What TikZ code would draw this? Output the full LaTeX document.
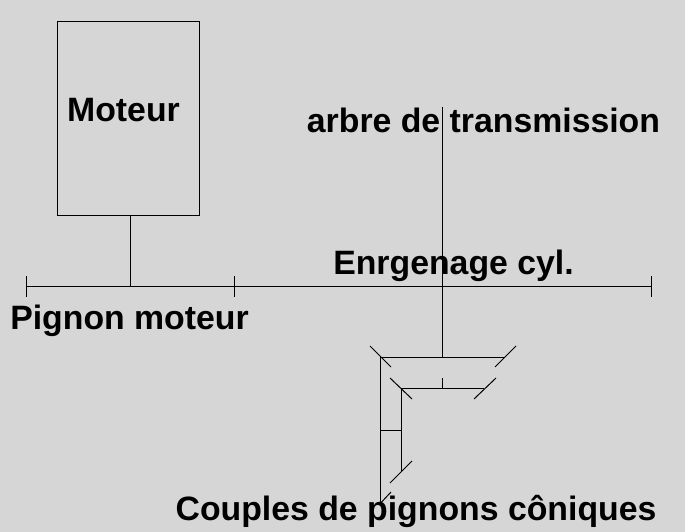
\documentclass[tikz,border=0pt]{standalone}
\usepackage{fontspec}
\setmainfont{Liberation Sans}
\usetikzlibrary{calc, positioning}
\definecolor{fond}{HTML}{D6D6D6}
\tikzset{
  trait/.style={line width=1pt, black},
  titre/.style={font=\fontsize{33.8}{36}\selectfont\bfseries, inner sep=0pt, anchor=base},
  boite/.style={draw, line width=1pt, minimum width=142pt, minimum height=193pt, inner sep=0pt}
}
\begin{document}
\begin{tikzpicture}[x=1pt, y=-1pt]
% Background
\fill[fond] (0,0) rectangle (685,532);
\useasboundingbox (0,0) rectangle (685,532);

% Motor and its stem
\node[boite] (moteur) at (128,118.5) {};
\coordinate (stemtop) at (130,215);
\coordinate (stembas) at (130,286.5);
\draw[trait] (stemtop) -- (stembas);

% Main shaft with three end marks
\coordinate (axeA) at (26,286.5);
\coordinate (axeB) at (234,286.5);
\coordinate (axeC) at (651,286.5);
\draw[trait] (axeA) -- (axeC);
\foreach \p in {axeA, axeB, axeC} {
  \draw[trait] ($(\p)+(0,-10.5)$) -- ($(\p)+(0,10.5)$);
}

% Transmission shaft
\coordinate (arbreH) at (442,107);
\coordinate (arbreB) at (442,357);
\draw[trait] (arbreH) -- (arbreB);

% Upper bevel gear
\coordinate (hautG) at (380.7,357);
\coordinate (hautD) at (505,357);
\draw[trait] (hautG) -- (hautD);
\draw[trait] (370,346) -- (391,367);
\draw[trait] (516,346) -- (495,367);

% Lower bevel gear
\coordinate (basG) at (401.3,388);
\coordinate (basD) at (484,388);
\coordinate (stub) at (442,378);
\draw[trait] (basG) -- (basD);
\draw[trait] (stub) -- (442,388);
\draw[trait] (390,378) -- (412,399);
\draw[trait] (496,378) -- (474,399);

% Two vertical shafts and their link
\coordinate (longB) at (380.7,503);
\coordinate (courtB) at (401.3,472);
\draw[trait] (hautG) -- (longB);
\draw[trait] (basG) -- (courtB);
\draw[trait] (380.7,430) -- (401.3,430);

% End marks of the vertical shafts
\draw[trait] (412,461) -- (390,483);
\draw[trait] (391,492) -- (longB);

% Labels
\node[titre] (lmoteur) at (123.5,122) {Moteur};
\node[titre] (larbre) at (483.5,132) {arbre de transmission};
\node[titre] (lengr) at (453.5,274) {Enrgenage cyl.};
\node[titre] (lpignon) at (129.5,329.5) {Pignon moteur};
\node[titre] (lcouple) at (416,520) {Couples de pignons côniques};
\end{tikzpicture}
\end{document}
